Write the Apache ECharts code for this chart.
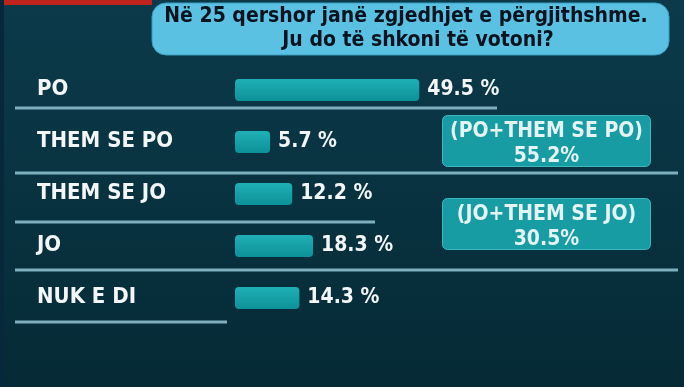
<!DOCTYPE html>
<html>
<head>
<meta charset="utf-8">
<script src="https://cdn.jsdelivr.net/npm/echarts@6/dist/echarts.min.js"></script>
<style>
html,body{margin:0;padding:0;background:#0b3545;}
#chart{width:684px;height:387px;}
</style>
</head>
<body>
<div id="chart"></div>
<script>
// ---- data ----
const titleLines = ['Në 25 qershor janë zgjedhjet e përgjithshme.', 'Ju do të shkoni të votoni?'];
const categories = ['PO', 'THEM SE PO', 'THEM SE JO', 'JO', 'NUK E DI'];
const values = [49.5, 5.7, 12.2, 18.3, 14.3];
const comboLabels = ['(PO+THEM SE PO)', '(JO+THEM SE JO)'];
const comboValues = [55.2, 30.5];

const FONT = '"DejaVu Sans Condensed", "DejaVu Sans", sans-serif';
const xMin = -4.6, xMax = 60;

const chart = echarts.init(document.getElementById('chart'));

const sepColor = '#7fafbf';
function sep(x1, x2, y) {
  return { type: 'line', shape: { x1: x1, y1: y, x2: x2, y2: y }, style: { stroke: sepColor, lineWidth: 3 }, z: 1 };
}
function comboBox(i, top) {
  return {
    type: 'group', left: 442, top: top, z: 5,
    children: [
      { type: 'rect', shape: { x: 0, y: 0, width: 208, height: 51, r: 5 },
        style: { fill: '#179ca3', stroke: '#3fb8bf', lineWidth: 1 } },
      { type: 'text', x: 104, y: 16, style: { text: comboLabels[i], fill: '#e4f3f3', font: 'bold 21px ' + FONT, align: 'center', verticalAlign: 'middle' } },
      { type: 'text', x: 104, y: 41, style: { text: comboValues[i].toFixed(1) + '%', fill: '#e4f3f3', font: 'bold 21px ' + FONT, align: 'center', verticalAlign: 'middle' } }
    ]
  };
}

const option = {
  backgroundColor: new echarts.graphic.LinearGradient(0, 0, 0, 1, [
    { offset: 0, color: '#0c3a4a' }, { offset: 1, color: '#052a36' }
  ]),
  animation: false,
  graphic: [
    { type: 'rect', shape: { x: 0, y: 0, width: 152, height: 5 }, style: { fill: '#c0231c' }, z: 2 },
    { type: 'rect', shape: { x: 0, y: 0, width: 4, height: 387 }, style: { fill: '#06283a' }, z: 2 },
    { type: 'rect', shape: { x: 152, y: 3, width: 517, height: 52, r: 14 },
      style: { fill: '#5bc1e2', stroke: '#3a9fc0', lineWidth: 1 }, z: 3 },
    { type: 'text', x: 406, y: 17, z: 4, style: { text: titleLines[0], fill: '#08131f', font: 'bold 21px ' + FONT, align: 'center', verticalAlign: 'middle' } },
    { type: 'text', x: 418, y: 41, z: 4, style: { text: titleLines[1], fill: '#08131f', font: 'bold 21px ' + FONT, align: 'center', verticalAlign: 'middle' } },
    sep(15, 497, 108),
    sep(15, 678, 173),
    sep(15, 375, 222),
    sep(15, 678, 270),
    sep(15, 227, 322),
    comboBox(0, 115),
    comboBox(1, 198)
  ],
  grid: { left: 235, width: 220, top: 63, height: 260 },
  xAxis: { type: 'value', min: xMin, max: xMax, show: false },
  yAxis: {
    type: 'category', data: categories, inverse: true,
    axisLine: { show: false }, axisTick: { show: false }, splitLine: { show: false },
    axisLabel: { align: 'left', margin: 198, color: '#f2f6f7', fontFamily: FONT, fontWeight: 'bold', fontSize: 22 }
  },
  series: [{
    type: 'custom',
    data: values.map((v, i) => [v, i]),
    encode: { x: 0, y: 1 },
    renderItem: function (params, api) {
      const s = api.coord([xMin, api.value(1)]);
      const e = api.coord([api.value(0), api.value(1)]);
      const h = 22;
      return {
        type: 'rect',
        shape: { x: s[0], y: s[1] - h / 2 + 1, width: e[0] - s[0], height: h, r: 4 },
        style: {
          fill: new echarts.graphic.LinearGradient(0, 0, 0, 1, [
            { offset: 0, color: '#1fb0b5' }, { offset: 1, color: '#0c9198' }
          ])
        },
        textContent: {
          style: { text: api.value(0).toFixed(1) + ' %', fill: '#f2f6f7', font: 'bold 21px ' + FONT }
        },
        textConfig: { position: 'right', distance: 8 }
      };
    }
  }]
};
chart.setOption(option);
</script>
</body>
</html>
